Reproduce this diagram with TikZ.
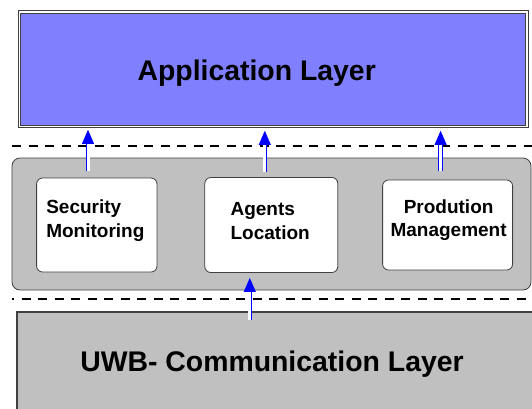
\documentclass[tikz,border=0pt]{standalone}
\usepackage{fontspec}
\setmainfont{Liberation Sans}
\usetikzlibrary{positioning,arrows.meta}

\definecolor{appBlue}{HTML}{8080FF}
\definecolor{layerGray}{HTML}{C0C0C0}
\definecolor{edgeGray}{HTML}{404040}

\begin{document}
\begin{tikzpicture}[
        x=1pt, y=-1pt,
        layer/.style={
                rectangle,
                draw=edgeGray,
                fill=layerGray,
                line width=1.1pt,
                inner sep=0pt
            },
        module/.style={
                rectangle,
                rounded corners=6pt,
                draw=edgeGray,
                fill=white,
                line width=0.8pt,
                minimum height=94pt,
                inner sep=0pt
            },
        title/.style = {font=\fontsize{28.4}{34}\selectfont\bfseries, inner sep=0pt},
        caption/.style = {font=\fontsize{19}{23.8}\selectfont\bfseries, inner sep=0pt},
        separator/.style = {line width=1.8pt, dash pattern=on 9pt off 7.5pt},
        flow/.style = {
                draw=blue,
                line width=0.8pt,
                double=white,
                double distance=3pt,
                -{Triangle[width=12pt,length=14pt,fill=blue]}
            }
    ]
    \useasboundingbox (0,0) rectangle (532,408);

    \node[layer, fill=appBlue, double=white, double distance=1.6pt, line width=0.9pt,
        minimum width=507.7pt, minimum height=114.3pt] (appLayer) at (273.2,69.2) {};
    \node[title, anchor=base] (appText) at (256.7,80.4) {Application Layer};

    \node[layer, rounded corners=8pt, line width=0.8pt,
        minimum width=519pt, minimum height=132pt] (midLayer) at (271.5,224) {};

    \node[layer, minimum width=526pt, minimum height=116pt] (uwbLayer) at (280,370) {};
    \node[title, anchor=base] (uwbText) at (272,371.6) {UWB- Communication Layer};

    \node[module, minimum width=120.4pt] (secBox) at (96.8,225) {};
    \node[module, minimum width=133pt, minimum height=95pt] (agtBox) [right=47pt of secBox] {};
    \node[module, minimum width=130pt, minimum height=90pt] (prodBox) [right=44pt of agtBox] {};

    \node[caption, align=left, anchor=north west] (secText)
        at ([xshift=9.9pt,yshift=-22.2pt]secBox.north west) {Security\\Monitoring};
    \node[caption, align=left, anchor=north west] (agtText)
        at ([xshift=26pt,yshift=-25pt]agtBox.north west) {Agents\\Location};
    \node[caption, align=center, anchor=north] (prodText)
        at ([xshift=1pt,yshift=-19.5pt]prodBox.north) {Prodution\\Management};

    \draw[separator] (12,146) -- (532,146);
    \draw[separator, dash phase=7pt] (12,299) -- (532,299);

    \draw[flow, shorten >=3pt] ([xshift=-8.8pt,yshift=7pt]secBox.north)
        -- ([xshift=-8.8pt]secBox.north |- appLayer.south);
    \draw[flow, shorten >=4pt] ([xshift=-6.5pt,yshift=5pt]agtBox.north)
        -- ([xshift=-6.5pt]agtBox.north |- appLayer.south);
    \draw[flow, shorten >=4pt] ([xshift=-7pt,yshift=9pt]prodBox.north)
        -- ([xshift=-7pt]prodBox.north |- appLayer.south);
    \draw[flow, shorten >=5pt] ([xshift=-21.5pt,yshift=-9pt]agtBox.south |- uwbLayer.north)
        -- ([xshift=-21.5pt]agtBox.south);
\end{tikzpicture}
\end{document}
